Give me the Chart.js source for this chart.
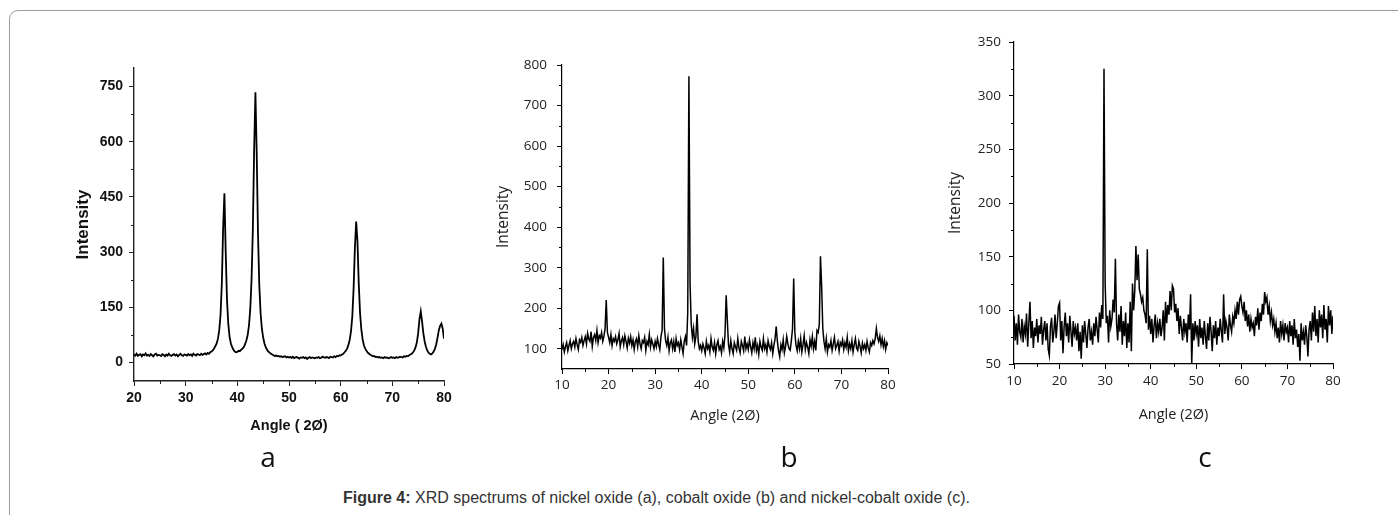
<!DOCTYPE html>
<html>
<head>
<meta charset="utf-8">
<script src="https://cdn.jsdelivr.net/npm/chart.js@4.4.1/dist/chart.umd.min.js"></script>
<style>
  html, body { margin: 0; padding: 0; background: #fff; }
  body { width: 1398px; height: 515px; position: relative; overflow: hidden; }
  .frame { position: absolute; left: 9px; top: 10px; width: 1500px; height: 600px;
           border: 1.5px solid #9d9d9d; border-radius: 9px; }
  canvas { position: absolute; }
  .sub { position: absolute; top: 442px; font-family: "Open Sans", sans-serif; font-size: 28px;
         line-height: 1; color: #111; transform: translateX(-50%); }
  .cap { position: absolute; left: 343px; top: 490px; font-family: "Liberation Sans", Arial, sans-serif;
         font-size: 16px; line-height: 1; color: #333; white-space: nowrap; }
</style>
</head>
<body>
<div class="frame"></div>
<canvas id="chartA" width="420" height="400" style="left:40px;top:50px"></canvas>
<canvas id="chartB" width="430" height="400" style="left:480px;top:40px"></canvas>
<canvas id="chartC" width="440" height="420" style="left:930px;top:20px"></canvas>
<div class="sub" style="left:268px">a</div>
<div class="sub" style="left:789px">b</div>
<div class="sub" style="left:1205px">c</div>
<div class="cap"><b>Figure 4:</b> XRD spectrums of nickel oxide (a), cobalt oxide (b) and nickel-cobalt oxide (c).</div>

<script>
// ── Datos ────────────────────────────────────────────────────────────────
// barrido en 2θ con paso fijo; intensidades
const STEP = 0.25;
const startA = 20;
const startB = 10;
const startC = 10;

// (a) oxido de niquel, 20 → 80
const intensA = [
  22,19,24,18,21,23,17,22,20,25,19,21,18,23,20,17,22,24,19,21,
  20,18,23,21,17,22,19,24,20,18,21,23,19,22,17,21,24,20,18,22,
  21,19,23,20,22,18,24,21,19,23,22,20,24,21,23,25,22,26,24,28,
  30,33,38,45,52,65,88,130,215,365,460,300,170,105,70,52,42,35,30,28,
  29,32,31,35,38,42,50,60,75,100,145,225,360,575,734,570,350,210,135,92,
  68,52,42,35,30,27,24,22,20,18,19,17,18,16,17,15,16,17,14,16,
  14,15,13,16,12,14,15,13,11,14,13,15,12,14,10,13,15,12,14,13,
  12,14,13,15,12,13,16,14,13,15,14,12,16,15,14,17,15,18,17,20,
  19,22,24,28,32,38,48,62,85,125,200,310,383,330,215,135,90,63,47,38,
  32,27,24,21,19,17,18,15,16,14,15,13,14,12,15,13,14,12,13,15,
  13,14,12,15,13,14,16,15,14,17,16,18,17,20,22,24,28,33,42,55,
  80,118,139,112,80,58,43,33,27,24,22,25,30,38,50,68,88,100,106,92,
  65,
];

// (b) oxido de cobalto, 10 → 80
const intensB = [
  98,110,92,105,115,95,108,120,100,112,118,104,125,110,98,122,116,128,108,120,
  130,112,138,124,118,142,106,128,135,120,145,115,132,126,140,118,130,150,220,140,
  128,115,135,108,125,118,130,112,122,138,105,120,128,110,132,118,102,126,114,130,
  108,122,98,118,125,105,132,112,100,120,115,128,96,118,110,135,104,122,112,100,
  118,105,125,110,98,130,145,325,150,120,108,128,95,115,122,100,118,92,125,108,
  115,98,122,105,88,118,130,108,190,772,260,160,128,150,112,130,185,118,100,108,
  95,112,102,88,118,100,108,92,125,104,96,115,88,110,120,98,106,90,118,102,
  135,232,170,110,92,120,100,88,115,105,96,125,102,90,118,108,95,130,100,112,
  98,122,105,90,115,100,128,95,108,86,118,104,96,125,100,110,92,120,106,98,
  115,88,108,125,155,118,95,80,110,98,122,90,105,130,112,100,96,120,150,273,
  140,108,95,118,100,125,92,110,132,98,115,104,88,122,106,130,100,118,96,145,
  140,160,328,255,150,118,100,125,92,110,104,120,96,112,128,100,108,118,94,115,
  108,122,98,115,104,128,95,112,100,120,92,110,125,102,96,118,106,90,114,100,
  110,96,118,102,92,115,108,120,112,125,150,128,118,132,110,125,105,120,98,115,
  108,
];

// (c) oxido de niquel-cobalto, 10 → 80
const intensC = [
  95,72,88,68,96,80,75,92,70,85,78,97,66,88,108,74,90,65,84,76,
  92,70,86,78,94,68,82,90,72,88,64,58,85,93,70,80,96,74,88,104,
  107,72,90,60,85,98,76,88,70,95,80,66,90,78,84,72,88,62,80,55,
  86,70,90,78,65,84,92,72,80,68,88,76,94,82,70,98,84,105,92,325,
  125,88,95,70,100,85,92,110,98,148,88,72,96,80,104,68,90,76,98,65,
  88,70,108,62,125,100,118,160,128,152,120,115,108,112,100,96,88,157,82,95,
  78,92,70,86,96,74,88,80,92,76,84,100,72,108,88,105,96,118,100,123,
  120,98,106,90,102,78,95,84,72,92,80,88,70,96,82,115,50,88,72,90,
  78,86,66,92,74,84,68,90,76,64,88,72,94,80,62,86,74,90,68,84,
  76,92,80,70,115,78,90,84,72,96,86,80,94,88,100,92,108,96,110,113,
  104,98,108,90,100,85,96,80,92,84,88,76,94,86,102,82,98,90,106,96,
  117,108,112,96,104,90,98,86,92,80,88,74,84,70,90,78,86,72,88,80,
  84,70,90,76,86,68,92,74,82,66,78,53,88,72,80,68,86,76,57,82,
  90,72,98,80,104,76,92,70,100,84,96,74,105,82,92,70,104,86,100,78,
  95,
];

// Ticks
const xTicksA  = [20, 30, 40, 50, 60, 70, 80];
const xMinorA  = [25, 35, 45, 55, 65, 75];
const yTicksA  = [0, 150, 300, 450, 600, 750];
const yMinorA  = [75, 225, 375, 525, 675];
const xTicksBC = [10, 20, 30, 40, 50, 60, 70, 80];
const xMinorBC = [15, 25, 35, 45, 55, 65, 75];
const yTicksB  = [100, 200, 300, 400, 500, 600, 700, 800];
const yMinorB  = [150, 250, 350, 450, 550, 650, 750];
const yTicksC  = [50, 100, 150, 200, 250, 300, 350];
const yMinorC  = [75, 125, 175, 225, 275, 325];

// ── Helpers ──────────────────────────────────────────────────────────────
const toPoints = (start, ys) => ys.map((y, i) => ({ x: start + i * STEP, y }));

const BOLD_NARROW = '"Liberation Sans Narrow", "Liberation Sans", Arial, sans-serif';
const BOLD_SANS   = '"Liberation Sans", Arial, sans-serif';
const SOFT_SANS   = '"Open Sans", "Noto Sans", sans-serif';

// ticks menores (medio intervalo) dibujados con las escalas de Chart.js
const minorTicks = {
  id: "minorTicks",
  afterDraw(chart, args, opts) {
    const { ctx } = chart;
    const sx = chart.scales.x, sy = chart.scales.y;
    ctx.save();
    ctx.strokeStyle = opts.color;
    ctx.lineWidth = 1;
    ctx.beginPath();
    (opts.x || []).forEach((v) => {
      const px = Math.round(sx.getPixelForValue(v)) + 0.5;
      ctx.moveTo(px, sx.top);
      ctx.lineTo(px, sx.top + opts.len);
    });
    (opts.y || []).forEach((v) => {
      const py = Math.round(sy.getPixelForValue(v)) + 0.5;
      ctx.moveTo(sy.right, py);
      ctx.lineTo(sy.right - opts.len, py);
    });
    ctx.stroke();
    ctx.restore();
  },
};

const makeChart = (id, c) =>
  new Chart(document.getElementById(id), {
    type: "line",
    data: {
      datasets: [{
        data: c.points,
        borderColor: "#000",
        borderWidth: c.lw,
        pointRadius: 0,
        tension: 0,
        fill: false,
      }],
    },
    options: {
      responsive: false,
      animation: false,
      layout: { padding: c.pad },
      plugins: {
        legend: { display: false },
        tooltip: { enabled: false },
        minorTicks: { x: c.xMinor, y: c.yMinor, len: 3, color: c.axis },
      },
      scales: {
        x: {
          type: "linear",
          min: c.xMin, max: c.xMax,
          afterBuildTicks: (s) => { s.ticks = c.xTicks.map((v) => ({ value: v })); },
          afterFit: (s) => { s.height = c.xH; },
          grid: { drawOnChartArea: false, drawTicks: true, tickLength: 5, tickColor: c.axis, tickWidth: 1 },
          border: { color: c.axis, width: c.bw },
          ticks: { font: c.tickFont, color: c.text, padding: c.xPad, maxRotation: 0, autoSkip: false },
          title: { display: true, text: c.xTitle, font: c.xTitleFont, color: c.text,
                   padding: { top: 0, bottom: c.xTitlePad } },
        },
        y: {
          type: "linear",
          min: c.yMin, max: c.yMax,
          afterBuildTicks: (s) => { s.ticks = c.yTicks.map((v) => ({ value: v })); },
          afterFit: (s) => { s.width = c.yW; },
          grid: { drawOnChartArea: false, drawTicks: true, tickLength: 5, tickColor: c.axis, tickWidth: 1 },
          border: { color: c.axis, width: c.bw },
          ticks: { font: c.tickFont, color: c.text, padding: c.yPad, autoSkip: false },
          title: { display: true, text: "Intensity", font: c.yTitleFont, color: c.text,
                   padding: { top: c.yTitlePad, bottom: 0 } },
        },
      },
    },
    plugins: [minorTicks],
  });

// ── Graficas ─────────────────────────────────────────────────────────────
makeChart("chartA", {
  points: toPoints(startA, intensA),
  lw: 1.8, bw: 1.4, axis: "#222", text: "#111",
  pad: { top: 18, right: 16, left: 0, bottom: 0 },
  xMin: 20, xMax: 80, yMin: -50, yMax: 800,
  xTicks: xTicksA, xMinor: xMinorA, yTicks: yTicksA, yMinor: yMinorA,
  xH: 69, yW: 94, xPad: 4, yPad: 6,
  tickFont: { family: BOLD_NARROW, weight: "bold", size: 14 },
  xTitle: "Angle ( 2Ø)", xTitleFont: { family: BOLD_SANS, weight: "bold", size: 14.5 }, xTitlePad: 15,
  yTitleFont: { family: BOLD_SANS, weight: "bold", size: 17 }, yTitlePad: 33,
});

makeChart("chartB", {
  points: toPoints(startB, intensB),
  lw: 1.5, bw: 1.2, axis: "#000", text: "#222",
  pad: { top: 25, right: 22, left: 0, bottom: 0 },
  xMin: 10, xMax: 80, yMin: 50, yMax: 800,
  xTicks: xTicksBC, xMinor: xMinorBC, yTicks: yTicksB, yMinor: yMinorB,
  xH: 71, yW: 82, xPad: 3, yPad: 10,
  tickFont: { family: SOFT_SANS, size: 13.5 },
  xTitle: "Angle (2Ø)", xTitleFont: { family: SOFT_SANS, size: 14.5 }, xTitlePad: 15,
  yTitleFont: { family: SOFT_SANS, size: 15.5 }, yTitlePad: 14,
});

makeChart("chartC", {
  points: toPoints(startC, intensC),
  lw: 1.5, bw: 1.2, axis: "#000", text: "#222",
  pad: { top: 22, right: 37, left: 0, bottom: 0 },
  xMin: 10, xMax: 80, yMin: 50, yMax: 350,
  xTicks: xTicksBC, xMinor: xMinorBC, yTicks: yTicksC, yMinor: yMinorC,
  xH: 76, yW: 84, xPad: 4, yPad: 8,
  tickFont: { family: SOFT_SANS, size: 13.5 },
  xTitle: "Angle (2Ø)", xTitleFont: { family: SOFT_SANS, size: 14.5 }, xTitlePad: 16,
  yTitleFont: { family: SOFT_SANS, size: 15.5 }, yTitlePad: 16,
});
</script>
</body>
</html>
